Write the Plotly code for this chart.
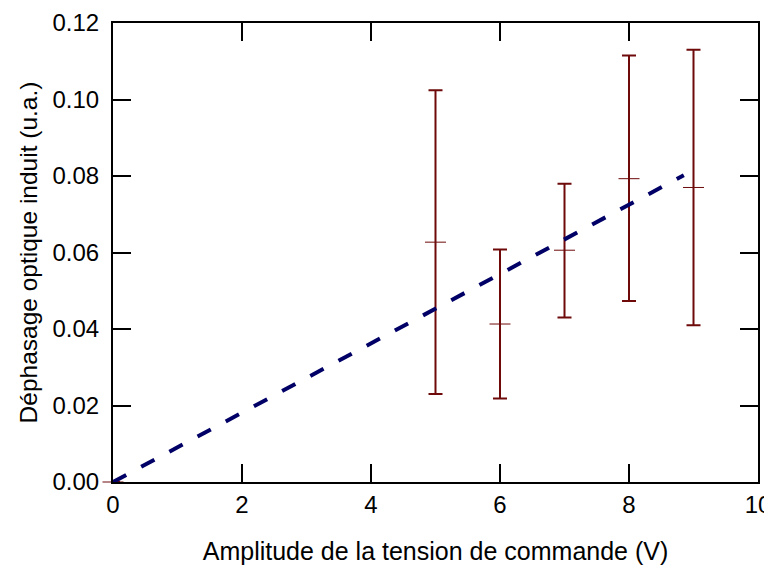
import plotly.graph_objects as go

# Data
voltage = [0, 5, 6, 7, 8, 9]
phase = [0.0, 0.0627, 0.0413, 0.0606, 0.0793, 0.0770]
err_top = [0.0, 0.1024, 0.0608, 0.0780, 0.1115, 0.1130]
err_bottom = [0.0, 0.0230, 0.0218, 0.0430, 0.0473, 0.0410]

fit_x = [0, 8.85]
fit_y = [0.0, 0.0802]

x_ticks = [0, 2, 4, 6, 8, 10]
y_ticks = [0.00, 0.02, 0.04, 0.06, 0.08, 0.10, 0.12]

err_plus = [t - p for t, p in zip(err_top, phase)]
err_minus = [p - b for p, b in zip(phase, err_bottom)]

RED = "#6e0a0a"
BLUE = "#000066"
FONT = "Liberation Sans, Arial, sans-serif"

fig = go.Figure()
fig.add_trace(go.Scatter(
    x=voltage, y=phase, mode="markers",
    marker=dict(symbol="line-ew", size=15, line=dict(color=RED, width=1), color=RED),
    error_y=dict(type="data", symmetric=False, array=err_plus, arrayminus=err_minus,
                 color=RED, thickness=2, width=7),
    showlegend=False, cliponaxis=False,
))
fig.add_trace(go.Scatter(
    x=fit_x, y=fit_y, mode="lines",
    line=dict(color=BLUE, width=4, dash="15px,17px"),
    showlegend=False,
))

axis_common = dict(
    showgrid=False, zeroline=False, showline=True, linecolor="black", linewidth=2,
    ticks="inside", ticklen=18, tickwidth=2, tickcolor="black", mirror="ticks",
    tickfont=dict(family=FONT, size=24, color="black"), automargin=False,
    ticklabeloverflow="allow",
)

fig.update_xaxes(range=[0, 10], tickvals=x_ticks, ticktext=[str(v) for v in x_ticks],
                 title=dict(text="Amplitude de la tension de commande (V)", standoff=26,
                            font=dict(family=FONT, size=25, color="black")),
                 **axis_common)
fig.update_yaxes(range=[0, 0.12], tickvals=y_ticks, ticktext=[f"{v:.2f}" for v in y_ticks],
                 ticklabelstandoff=7,
                 title=dict(text="Déphasage optique induit (u.a.)", standoff=8,
                            font=dict(family=FONT, size=24.5, color="black")),
                 **axis_common)

fig.update_layout(
    width=772, height=565,
    margin=dict(l=105, r=22, t=15, b=91),
    paper_bgcolor="white", plot_bgcolor="white",
)

fig.write_html("out.html")
